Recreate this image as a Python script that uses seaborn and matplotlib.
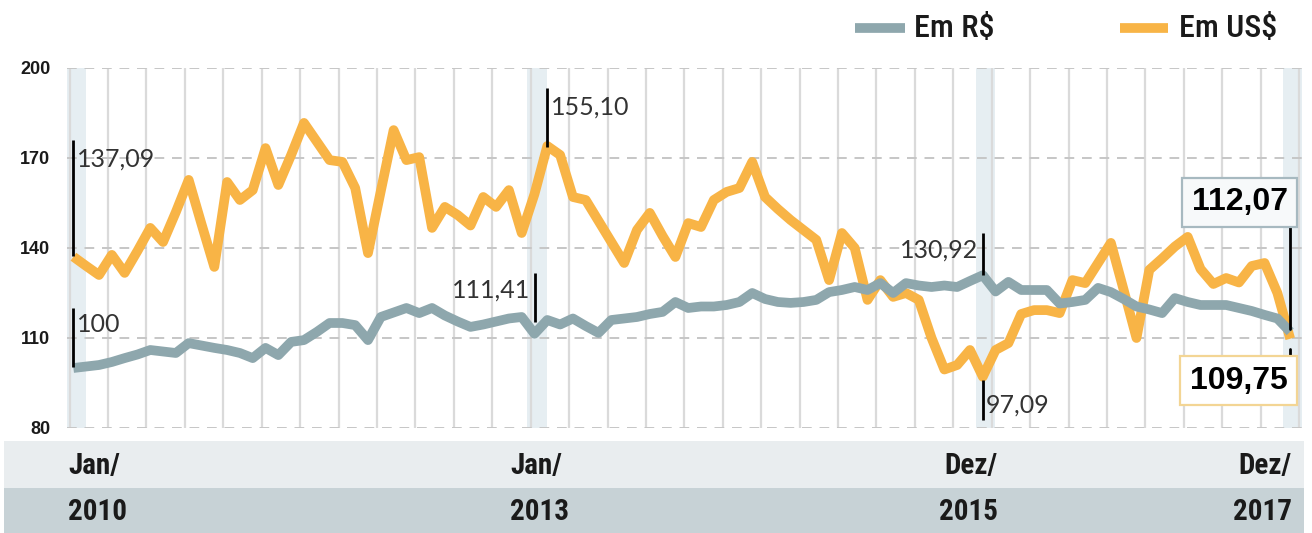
import numpy as np
import pandas as pd
import matplotlib
matplotlib.use("Agg")
import matplotlib.pyplot as plt
from matplotlib import font_manager
from matplotlib.patches import Rectangle
from matplotlib.lines import Line2D
import seaborn as sns

# ---------------- data ----------------
meses = pd.date_range("2010-01-01", "2017-12-01", freq="MS").strftime("%Y-%m").tolist()

em_reais = [100.0, 100.5, 101.0, 102.0, 103.3, 104.5, 106.0, 105.5, 105.0, 108.3,
            107.5, 106.7, 106.0, 105.0, 103.3, 106.7, 104.3, 108.7, 109.3, 112.0,
            115.0, 115.0, 114.3, 109.3, 117.0, 118.5, 120.0, 118.3, 120.0, 117.5,
            115.5, 113.7, 114.5, 115.5, 116.5, 117.0, 111.41, 116.0, 114.5, 116.5,
            114.0, 111.7, 116.0, 116.5, 117.0, 118.0, 118.7, 122.0, 120.0, 120.5,
            120.5, 121.0, 122.0, 125.0, 123.0, 122.0, 121.7, 122.0, 122.7, 125.3,
            126.0, 127.0, 126.0, 128.3, 125.0, 128.3, 127.5, 127.0, 127.5, 127.0,
            129.0, 130.92, 125.5, 128.7, 126.0, 126.0, 126.0, 121.5, 122.0, 122.7,
            126.7, 125.3, 123.0, 120.5, 119.5, 118.3, 123.3, 122.0, 121.0, 121.0,
            121.0, 120.0, 119.0, 117.7, 116.5, 112.07]

em_dolares = [137.09, 134.0, 131.0, 137.7, 131.7, 139.0, 146.7, 142.0, 152.0, 162.7,
              148.0, 133.7, 162.0, 156.0, 159.3, 173.3, 161.0, 171.0, 181.7, 175.5,
              169.3, 168.7, 160.0, 138.3, 159.0, 179.3, 169.3, 170.3, 146.7, 153.7,
              151.0, 147.5, 157.0, 153.7, 159.3, 145.0, 158.0, 174.0, 171.0, 157.0,
              156.0, 149.0, 142.0, 135.0, 146.0, 151.7, 144.0, 137.0, 148.3, 147.0,
              156.0, 158.7, 160.0, 168.7, 157.0, 153.0, 149.3, 146.0, 142.7, 129.3,
              145.0, 140.0, 122.7, 129.3, 123.7, 125.0, 122.7, 110.0, 99.5, 101.0,
              106.0, 97.09, 106.0, 108.3, 118.0, 119.3, 119.3, 118.3, 129.3, 128.3,
              135.0, 141.7, 126.0, 110.0, 132.7, 136.5, 140.5, 143.7, 133.0, 128.0,
              130.0, 128.5, 134.0, 135.0, 125.0, 109.75]

series = ["Em R$", "Em US$"]
y_ticks = [80, 110, 140, 170, 200]

destaque_meses = ["2010-01", "2013-01", "2015-12", "2017-12"]
rotulo_mes = ["Jan/", "Jan/", "Dez/", "Dez/"]
rotulo_ano = ["2010", "2013", "2015", "2017"]

anot_mes = ["2010-01", "2010-01", "2013-01", "2013-02", "2015-12", "2015-12"]
anot_texto = ["137,09", "100", "111,41", "155,10", "130,92", "97,09"]
final_texto = ["112,07", "109,75"]

# ---------------- style ----------------
sns.set_theme(style="white")
avail = {f.name for f in font_manager.fontManager.ttflist}

def pick(*names):
    for n in names:
        if n in avail:
            return n
    return "DejaVu Sans"

NARROW = pick("Liberation Sans Narrow", "Roboto Condensed", "Open Sans Condensed", "Roboto", "Liberation Sans")
SANS = pick("Liberation Sans", "DejaVu Sans")
LIGHT = pick("Lato", "Open Sans", "Liberation Sans")
plt.rcParams["font.family"] = [SANS, "DejaVu Sans"]

ORANGE = "#F8B446"
GRAY = "#8EA7AD"
HILITE = "#E6EEF2"
VGRID = "#DADADA"
HGRID = "#C6C6C6"
BAND1 = "#E9EDEF"
BAND2 = "#C7D2D6"
TXT = "#1A1A1A"

W, H = 1312, 533
fig = plt.figure(figsize=(W / 100, H / 100), dpi=100)
fig.patch.set_facecolor("white")

def fx(px):
    return px / W

def fy(py):
    return 1 - py / H

ax = fig.add_axes([fx(67), fy(428), fx(1303) - fx(67), fy(68) - fy(428)])
ax.set_facecolor("white")

idx = {m: i for i, m in enumerate(meses)}
df = pd.DataFrame({
    "pos": list(range(len(meses))) * 2,
    "valor": em_reais + em_dolares,
    "serie": [series[0]] * len(meses) + [series[1]] * len(meses),
})

# highlight bands
for m in destaque_meses:
    p = idx[m]
    ax.axvspan(p - 0.55, p + 0.95, color=HILITE, zorder=0, lw=0)

# quarterly vertical gridlines
for k in range(33):
    ax.axvline(3 * k - 0.3, color=VGRID, lw=1.6, zorder=1)

# dashed horizontal gridlines
for t in y_ticks:
    ax.axhline(t, color=HGRID, lw=1.4, ls=(0, (5, 4)), zorder=1)

sns.lineplot(data=df, x="pos", y="valor", hue="serie",
             palette={series[0]: GRAY, series[1]: ORANGE},
             hue_order=[series[1], series[0]],
             linewidth=7, legend=False, ax=ax, zorder=3)
for ln in ax.lines[-2:]:
    ln.set_solid_joinstyle("round")
    ln.set_solid_capstyle("butt")

ax.set_xlim(-0.5, 96)
ax.set_ylim(80, 200)
ax.set_yticks(y_ticks)
ax.set_yticklabels([str(t) for t in y_ticks], fontsize=13, fontweight="bold",
                   color=TXT, family=SANS)
ax.tick_params(axis="y", length=0, pad=12)
ax.set_xticks([])
ax.set_xlabel("")
ax.set_ylabel("")
for s in ax.spines.values():
    s.set_visible(False)

# annotations (marker line + light text)
ann_layout = [
    # (y0, y1, text_y, side)
    (137.5, 176.0, 169.5, "right"),
    (100.3, 120.0, 114.5, "right"),
    (115.3, 131.7, 126.0, "left"),
    (173.7, 193.3, 187.0, "right"),
    (131.0, 145.0, 139.3, "left"),
    (82.7, 96.0, 87.7, "right"),
]
for m, txt, (y0, y1, ty, side) in zip(anot_mes, anot_texto, ann_layout):
    p = idx[m]
    ax.plot([p, p], [y0, y1], color="black", lw=2.0, zorder=4, solid_capstyle="butt")
    if side == "right":
        ax.text(p + 0.25, ty, txt, ha="left", va="center", fontsize=18,
                family=[LIGHT, "DejaVu Sans"], fontweight="normal", color="#333333", zorder=5)
    else:
        ax.text(p - 0.35, ty, txt, ha="right", va="center", fontsize=18,
                family=[LIGHT, "DejaVu Sans"], fontweight="normal", color="#333333", zorder=5)

# final values in boxes
p_end = len(meses) - 1
ax.plot([p_end, p_end], [113.0, 148.3], color="black", lw=2.0, zorder=4)
ax.plot([p_end, p_end], [103.3, 106.5], color="black", lw=2.0, zorder=4)
ax.text(p_end - 0.2, 155.3, final_texto[0], ha="right", va="center", fontsize=23,
        fontweight="bold", color="black", family=SANS, zorder=6,
        bbox=dict(boxstyle="square,pad=0.3", fc="#F7F9FA", ec="#A7B9C0", lw=1.6))
ax.text(p_end - 0.2, 95.8, final_texto[1], ha="right", va="center", fontsize=23,
        fontweight="bold", color="black", family=SANS, zorder=6,
        bbox=dict(boxstyle="square,pad=0.3", fc="white", ec="#F3D594", lw=1.6))

# legend (top right)
fig.add_artist(Line2D([fx(855), fx(905)], [fy(28), fy(28)], color=GRAY, lw=7,
                      solid_capstyle="butt"))
fig.text(fx(914), fy(29), series[0], ha="left", va="center", fontsize=23,
         fontweight="medium", color=TXT, family=[NARROW, "DejaVu Sans"])
fig.add_artist(Line2D([fx(1120), fx(1168)], [fy(28), fy(28)], color=ORANGE, lw=7,
                      solid_capstyle="butt"))
fig.text(fx(1179), fy(29), series[1], ha="left", va="center", fontsize=23,
         fontweight="medium", color=TXT, family=[NARROW, "DejaVu Sans"])

# bottom bands
fig.add_artist(Rectangle((fx(4), fy(488)), fx(1304) - fx(4), fy(441) - fy(488),
                         transform=fig.transFigure, fc=BAND1, ec="none", zorder=0))
fig.add_artist(Rectangle((fx(4), fy(533)), fx(1304) - fx(4), fy(488) - fy(533),
                         transform=fig.transFigure, fc=BAND2, ec="none", zorder=0))

lab_x = [68, 510, 998, 1292]
lab_ha = ["left", "left", "right", "right"]
for x, ha, tm, ta in zip(lab_x, lab_ha, rotulo_mes, rotulo_ano):
    fig.text(fx(x), fy(466), tm, ha=ha, va="center", fontsize=21, fontweight="bold",
             color=TXT, family=[NARROW, "DejaVu Sans"], fontstretch="condensed")
    fig.text(fx(x), fy(512), ta, ha=ha, va="center", fontsize=21, fontweight="bold",
             color=TXT, family=[NARROW, "DejaVu Sans"], fontstretch="condensed")

fig.savefig("out.png", dpi=100, facecolor="white")
